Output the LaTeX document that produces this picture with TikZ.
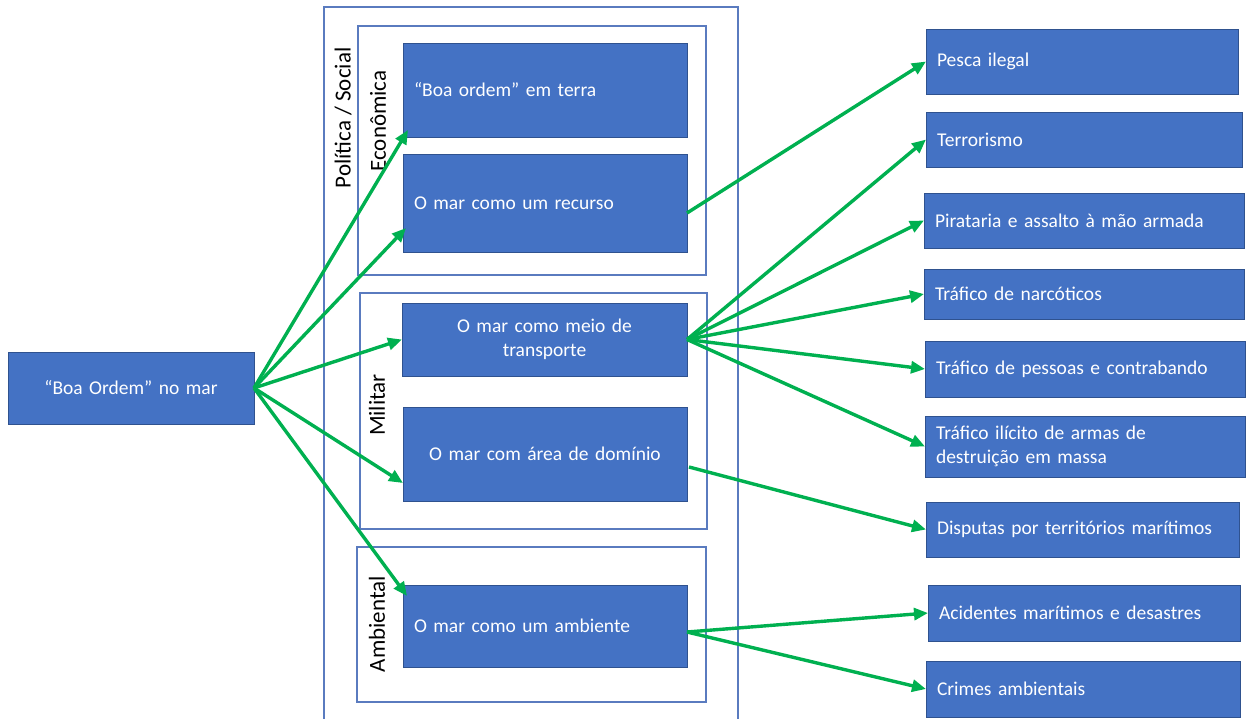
\documentclass[tikz,border=0pt]{standalone}
\usepackage{fontspec}
\setmainfont{Carlito}
\usetikzlibrary{arrows.meta}
\definecolor{boxblue}{HTML}{4472C4}
\definecolor{boxline}{HTML}{2F528F}
\definecolor{frameline}{HTML}{5A7BBF}
\definecolor{arrowgreen}{HTML}{00B050}
\begin{document}
\begin{tikzpicture}[x=1pt,y=-1pt,
  bluebox/.style={draw=boxline, line width=0.8pt, fill=boxblue, text=white,
    font=\fontsize{19.5}{24}\selectfont, inner xsep=11pt, inner ysep=0pt,
    anchor=north west, outer sep=0pt},
  framebox/.style={draw=frameline, line width=1.3pt, anchor=north west,
    inner sep=0pt, outer sep=0pt},
  sidelabel/.style={rotate=90, font=\fontsize{23}{27}\selectfont, text=black, inner sep=0pt},
  link/.style={draw=arrowgreen, line width=3.4pt, -{Triangle[length=14pt,width=12pt]}}
]
\useasboundingbox (0,0) rectangle (1246,719);

% frames
\node[framebox, minimum width=414pt, minimum height=740pt] (polF) at (324,7) {};
\node[framebox, minimum width=348pt, minimum height=249pt] (econF) at (358,26) {};
\node[framebox, minimum width=347pt, minimum height=236pt] (milF) at (360,293) {};
\node[framebox, minimum width=349pt, minimum height=155pt] (ambF) at (357,547) {};

% side labels
\node[sidelabel] (lpol) at (343,118) {Política / Social};
\node[sidelabel] (lecon) at (378,121) {Econômica};
\node[sidelabel] (lmil) at (377,405) {Militar};
\node[sidelabel] (lamb) at (377,624) {Ambiental};

% left
\node[bluebox, align=center, text width=224pt, minimum height=72pt] (boa) at (8,352) {“Boa Ordem” no mar};

% middle
\node[bluebox, align=left, text width=262pt, minimum height=94pt] (terra) at (403,43) {“Boa ordem” em terra};
\node[bluebox, align=left, text width=262pt, minimum height=98pt] (recurso) at (403,154) {O mar como um recurso};
\node[bluebox, align=center, text width=263pt, minimum height=73pt] (transporte) at (402,303) {O mar como meio de\\transporte};
\node[bluebox, align=center, text width=262pt, minimum height=94pt] (dominio) at (403,407) {O mar com área de domínio};
\node[bluebox, align=left, text width=262pt, minimum height=82pt] (ambiente) at (403,585) {O mar como um ambiente};

% right
\node[bluebox, align=left, text width=290pt, minimum height=65pt] (pesca) at (926,29) {Pesca ilegal};
\node[bluebox, align=left, text width=294pt, minimum height=55pt] (terr) at (926,112) {Terrorismo};
\node[bluebox, align=left, text width=298pt, minimum height=55pt] (pirat) at (924,193) {Pirataria e assalto à mão armada};
\node[bluebox, align=left, text width=298pt, minimum height=50pt] (narc) at (924,269) {Tráfico de narcóticos};
\node[bluebox, align=left, text width=298pt, minimum height=56pt] (pessoas) at (925,341) {Tráfico de pessoas e contrabando};
\node[bluebox, align=left, text width=298pt, minimum height=61pt] (armas) at (925,416) {Tráfico ilícito de armas de\\destruição em massa};
\node[bluebox, align=left, text width=291pt, minimum height=55pt] (disp) at (926,502) {Disputas por territórios marítimos};
\node[bluebox, align=left, text width=290pt, minimum height=56pt] (acid) at (928,585) {Acidentes marítimos e desastres};
\node[bluebox, align=left, text width=292pt, minimum height=56pt] (crimes) at (926,661) {Crimes ambientais};

% connectors
\draw[link] (boa.east) -- ([shift={(5,-7)}]terra.south west);
\draw[link] (boa.east) -- ([shift={(3,25)}]recurso.west);
\draw[link] (boa.east) -- (transporte.west);
\draw[link] (boa.east) -- ([shift={(0,29)}]dominio.west);
\draw[link] (boa.east) -- ([shift={(4,11)}]ambiente.north west);

\draw[link] ([shift={(0,10)}]recurso.east) -- (pesca.west);
\draw[link] (transporte.east) -- (terr.west);
\draw[link] (transporte.east) -- (pirat.west);
\draw[link] (transporte.east) -- (narc.west);
\draw[link] (transporte.east) -- (pessoas.west);
\draw[link] (transporte.east) -- (armas.west);
\draw[link] ([shift={(2,13)}]dominio.east) -- (disp.west);
\draw[link] ([shift={(0,6)}]ambiente.east) -- (acid.west);
\draw[link] ([shift={(0,6)}]ambiente.east) -- (crimes.west);
\end{tikzpicture}
\end{document}
